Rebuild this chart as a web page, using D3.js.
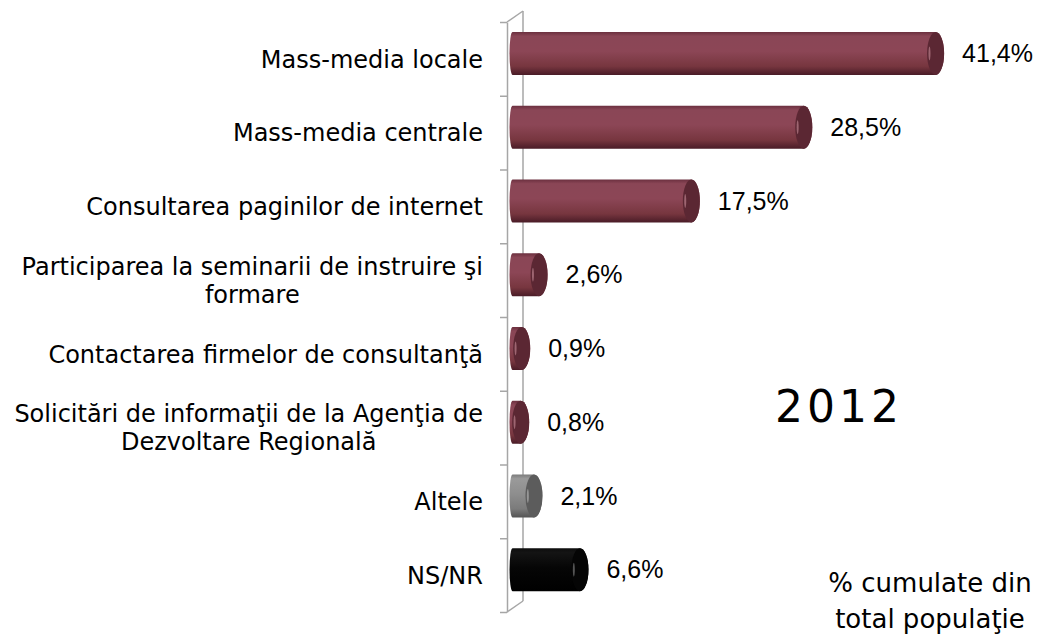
<!DOCTYPE html>
<html>
<head>
<meta charset="utf-8">
<script src="https://cdn.jsdelivr.net/npm/d3@7"></script>
<style>
	body { margin: 0; background: #fff; }
	svg { display: block; }
</style>
</head>
<body>
<svg width="1041" height="635"></svg>
<script>
const categories = [
	"Mass-media locale",
	"Mass-media centrale",
	"Consultarea paginilor de internet",
	"Participarea la seminarii de instruire şi\nformare",
	"Contactarea firmelor de consultanţă",
	"Solicitări de informaţii de la Agenţia de\nDezvoltare Regională",
	"Altele",
	"NS/NR",
];
const values = [41.4, 28.5, 17.5, 2.6, 0.9, 0.8, 2.1, 6.6];
const barTones = ["wine", "wine", "wine", "wine", "wine", "wine", "grey", "black"];
const yearLabel = "2 0 1 2";
const noteLines = ["% cumulate din", "total populaţie"];

const svg = d3.select("svg");
const defs = svg.append("defs");

// colours per tone: body gradient stops, cap face, highlight
const tones = {
	wine: {
		body: ["#6a2f3e", "#8a4656", "#8c4656", "#77363f", "#4a1c27"],
		cap: "#5b2733",
		shine: "#c98f9b",
	},
	grey: {
		body: ["#7a7a7a", "#9a9a9a", "#8e8e8e", "#7b7b7b", "#555555"],
		cap: "#5c5c5c",
		shine: "#bdbdbd",
	},
	black: {
		body: ["#0c0c0c", "#141414", "#060606", "#020202", "#000000"],
		cap: "#050505",
		shine: "#8a8a8a",
	},
};
const stopOffsets = [0, 0.1, 0.45, 0.8, 1];

Object.entries(tones).forEach(([key, t]) => {
	const g = defs
		.append("linearGradient")
		.attr("id", `body-${key}`)
		.attr("x1", 0)
		.attr("y1", 0)
		.attr("x2", 0)
		.attr("y2", 1);
	g.selectAll("stop")
		.data(t.body)
		.enter()
		.append("stop")
		.attr("offset", (d, i) => stopOffsets[i])
		.attr("stop-color", (d) => d);
});

// band boundaries on the front wall of the 3D plot
const yIndex = d3.scaleLinear().domain([0, categories.length]).range([22, 612]);
const y = d3
	.scaleBand()
	.domain(categories)
	.range([22, 612])
	.padding(0);
const x = d3.scaleLinear().domain([0, 45]).range([512.5, 972.4]);

const depthX = 16;
const depthY = -11;
const barRy = 21.5;
const capRx = 8.5;
const leftRx = 3;
const axisColor = "#a6a6a6";

// back wall + depth edges
const wall = svg.append("g").attr("stroke", axisColor).attr("stroke-width", 1.5).attr("fill", "none");
wall
	.append("line")
	.attr("x1", 507 + depthX)
	.attr("x2", 507 + depthX)
	.attr("y1", yIndex(0) + depthY)
	.attr("y2", yIndex(categories.length) + depthY);
[0, categories.length].forEach((i) => {
	wall
		.append("line")
		.attr("x1", 507)
		.attr("y1", yIndex(i))
		.attr("x2", 507 + depthX)
		.attr("y2", yIndex(i) + depthY);
});

const axisG = svg.append("g").attr("transform", "translate(507,0)");
axisG.call(
	d3
		.axisLeft(yIndex)
		.tickValues(d3.range(categories.length + 1))
		.tickFormat("")
		.tickSizeInner(7)
		.tickSizeOuter(0),
);
axisG.selectAll("path, line").attr("stroke", axisColor).attr("stroke-width", 1.5);

// cylinders
const barCenter = (d) => y(d) + y.bandwidth() / 2 + depthY / 2;

const bars = svg
	.append("g")
	.selectAll(".bar")
	.data(categories)
	.enter()
	.append("g")
	.attr("class", "bar");

bars
	.append("path")
	.attr("d", (d, i) => {
		const x0 = x(0);
		const x1 = x(values[i]);
		const cy = barCenter(d);
		return (
			`M${x0},${cy - barRy}` +
			`L${x1},${cy - barRy}` +
			`A${capRx},${barRy} 0 0 1 ${x1},${cy + barRy}` +
			`L${x0},${cy + barRy}` +
			`A${leftRx},${barRy} 0 0 1 ${x0},${cy - barRy}Z`
		);
	})
	.attr("fill", (d, i) => `url(#body-${barTones[i]})`);

bars
	.append("ellipse")
	.attr("cx", (d, i) => x(values[i]))
	.attr("cy", barCenter)
	.attr("rx", capRx)
	.attr("ry", barRy)
	.attr("fill", (d, i) => tones[barTones[i]].cap);

bars
	.append("ellipse")
	.attr("cx", (d, i) => x(values[i]) - capRx * 0.72)
	.attr("cy", barCenter)
	.attr("rx", 1)
	.attr("ry", 7)
	.attr("fill", (d, i) => tones[barTones[i]].shine)
	.attr("opacity", 0.6);

// value labels
const roFormat = d3.formatLocale({
	decimal: ",",
	thousands: ".",
	grouping: [3],
	currency: ["", " lei"],
}).format(".1f");

bars
	.append("text")
	.attr("x", (d, i) => x(values[i]) + capRx + 18)
	.attr("y", barCenter)
	.attr("dy", "0.35em")
	.attr("font-family", "'Liberation Sans', Arial, sans-serif")
	.attr("font-size", 25)
	.attr("fill", "#000")
	.text((d, i) => roFormat(values[i]) + "%");

// category labels (multi-line ones are centred on their widest line)
const labelRight = 483;
const lineHeight = 28;
const labels = svg
	.append("g")
	.attr("font-family", "'DejaVu Sans', Verdana, sans-serif")
	.attr("font-size", 24)
	.attr("fill", "#000");

categories.forEach((c) => {
	const lines = c.split("\n");
	const cy = y(c) + y.bandwidth() / 2;
	const t = labels
		.append("text")
		.attr("y", cy - ((lines.length - 1) * lineHeight) / 2)
		.attr("dy", "0.36em");
	lines.forEach((line, k) => {
		t.append("tspan")
			.attr("dy", k === 0 ? null : lineHeight)
			.text(line);
	});
	if (lines.length === 1) {
		t.attr("text-anchor", "end").attr("x", labelRight);
	} else {
		const widest = d3.max(t.selectAll("tspan").nodes(), (n) => n.getComputedTextLength());
		const mid = labelRight - widest / 2;
		t.attr("text-anchor", "middle");
		t.selectAll("tspan").attr("x", mid);
	}
});

// year
svg
	.append("text")
	.attr("x", 775)
	.attr("y", 422)
	.attr("font-family", "'DejaVu Sans', Verdana, sans-serif")
	.attr("font-size", 44)
	.attr("letter-spacing", -5)
	.attr("fill", "#000")
	.text(yearLabel);

// note
svg
	.append("text")
	.attr("text-anchor", "middle")
	.attr("font-family", "'DejaVu Sans', Verdana, sans-serif")
	.attr("font-size", 26)
	.attr("fill", "#000")
	.selectAll("tspan")
	.data(noteLines)
	.enter()
	.append("tspan")
	.attr("x", 930)
	.attr("y", (d, i) => 592 + i * 36)
	.text((d) => d);
</script>
</body>
</html>
